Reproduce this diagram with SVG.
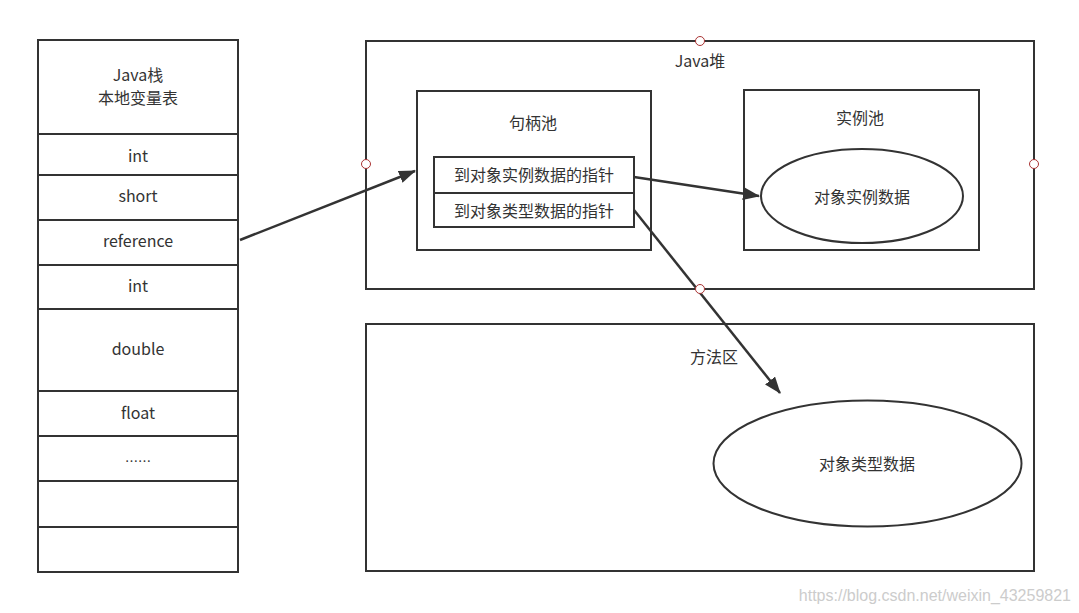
<svg xmlns="http://www.w3.org/2000/svg" width="1079" height="613" viewBox="0 0 1079 613">
<defs>
<style>
.box{fill:#fff;stroke:#333;stroke-width:2}
.t{font-family:"Noto Sans CJK SC","Noto Sans",sans-serif;font-size:16px;fill:#333;text-anchor:middle}
.c{fill:#fff;stroke:#a33;stroke-width:1}
.ln{stroke:#333;stroke-width:2.5;fill:none}
</style>
<marker id="ah" viewBox="0 0 16 12" refX="15" refY="6" markerWidth="17" markerHeight="13" markerUnits="userSpaceOnUse" orient="auto">
<path d="M0,0 L16,6 L0,12 Z" fill="#333"/>
</marker>
</defs>
<rect width="1079" height="613" fill="#fff"/>
<g id="stack">
<rect class="box" x="38" y="40" width="200" height="94"/>
<text class="t" x="138" y="81">Java栈</text>
<text class="t" x="138" y="104">本地变量表</text>
<rect class="box" x="38" y="134" width="200" height="41"/>
<text class="t" x="138" y="162">int</text>
<rect class="box" x="38" y="175" width="200" height="45"/>
<text class="t" x="138" y="202">short</text>
<rect class="box" x="38" y="220" width="200" height="45"/>
<text class="t" x="138" y="247">reference</text>
<rect class="box" x="38" y="265" width="200" height="44"/>
<text class="t" x="138" y="292">int</text>
<rect class="box" x="38" y="309" width="200" height="82"/>
<text class="t" x="138" y="355">double</text>
<rect class="box" x="38" y="391" width="200" height="45"/>
<text class="t" x="138" y="419">float</text>
<rect class="box" x="38" y="436" width="200" height="45"/>
<text class="t" x="138" y="466" style="font-size:13px">……</text>
<rect class="box" x="38" y="481" width="200" height="46"/>
<rect class="box" x="38" y="527" width="200" height="45"/>
</g>
<g id="heap">
<rect class="box" x="366" y="41" width="668" height="248"/>
<text class="t" x="700" y="67">Java堆</text>
</g>
<g id="handlePool">
<rect class="box" x="417" y="91" width="234" height="159"/>
<text class="t" x="533" y="129">句柄池</text>
</g>
<g id="instPtr">
<rect class="box" x="434" y="157" width="200" height="36"/>
<text class="t" x="534" y="181">到对象实例数据的指针</text>
</g>
<g id="typePtr">
<rect class="box" x="434" y="193" width="200" height="34"/>
<text class="t" x="534" y="217">到对象类型数据的指针</text>
</g>
<g id="instancePool">
<rect class="box" x="744" y="90" width="235" height="160"/>
<text class="t" x="860" y="124">实例池</text>
</g>
<g id="instData">
<ellipse class="box" cx="862" cy="196" rx="101" ry="47"/>
<text class="t" x="862" y="203">对象实例数据</text>
</g>
<g id="methodArea">
<rect class="box" x="366" y="324" width="668" height="247"/>
<text class="t" x="714" y="363">方法区</text>
</g>
<g id="typeData">
<ellipse class="box" cx="867.500" cy="463.500" rx="154" ry="63"/>
<text class="t" x="867" y="470">对象类型数据</text>
</g>
<g id="connectors">
<line class="ln" x1="240" y1="240" x2="415" y2="171" marker-end="url(#ah)"/>
<line class="ln" x1="634" y1="177" x2="759" y2="196" marker-end="url(#ah)"/>
<line class="ln" x1="634" y1="210" x2="780" y2="393" marker-end="url(#ah)"/>
</g>
<g id="ports">
<circle class="c" cx="700" cy="41" r="4.500"/>
<circle class="c" cx="366" cy="164" r="4.500"/>
<circle class="c" cx="1034" cy="164" r="4.500"/>
<circle class="c" cx="700" cy="289" r="4.500"/>
</g>
<text x="1071" y="601" style="font-family:'Liberation Sans',Arial,sans-serif;font-size:16px;fill:#ccc;text-anchor:end">https://blog.csdn.net/weixin_43259821</text>
</svg>
